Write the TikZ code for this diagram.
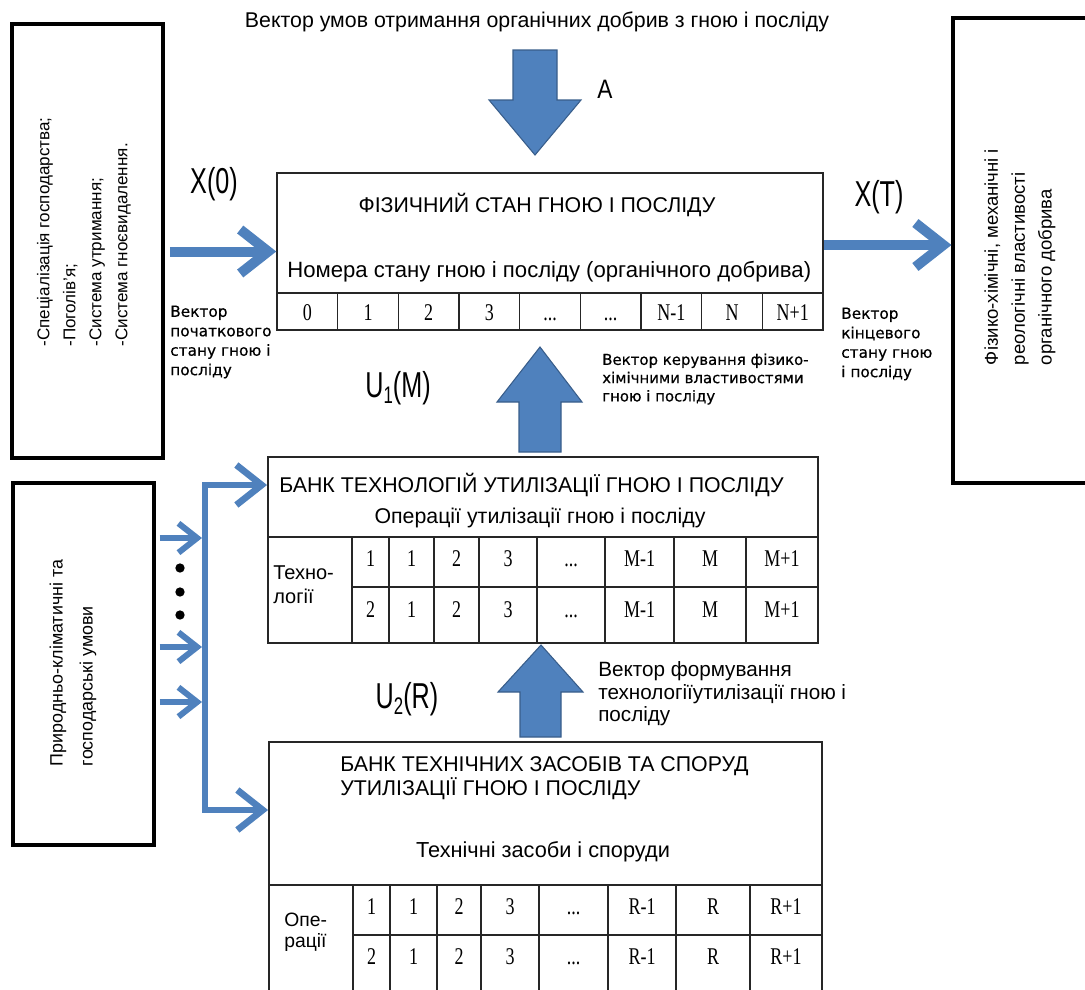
\documentclass[tikz,border=0pt]{standalone}
\usepackage{fontspec}
\setmainfont{Liberation Sans}
\newfontfamily\numfont{Liberation Serif}
\newfontfamily\verd[FakeBold=0.5]{DejaVu Sans}
\usetikzlibrary{arrows.meta,fit}
\definecolor{arrblue}{HTML}{4F81BD}
\definecolor{arredge}{HTML}{385D8A}
\newcommand\mainsz{\fontsize{16pt}{18pt}\selectfont}
\newcommand\biglab[1]{\scalebox{0.7}[1]{\fontsize{27pt}{27pt}\selectfont #1}}
\newcommand\subl[1]{\raisebox{-4.5pt}{\fontsize{18pt}{18pt}\selectfont #1}}
\newcommand\nm[1]{\scalebox{0.75}[1]{#1}}
\newcommand\dd{...}
\tikzset{
  heavybox/.style={draw=black, line width=2.3pt, inner sep=0pt},
  tablebox/.style={draw=black!85, line width=1.4pt, inner sep=0pt},
  topbox/.style={draw=black!85, line width=1.1pt, inner sep=0pt},
  gridline/.style={draw=black!85, line width=1.2pt},
  topgrid/.style={draw=black!85, line width=1.0pt},
  blockarrow/.style={fill=arrblue, draw=arredge, line width=0.8pt},
  bigflow/.style={draw=arrblue, line width=7.5pt, -{Straight Barb[length=21pt,width=33pt]}},
  busflow/.style={draw=arrblue, line width=5pt, line join=miter},
  branchtips/.style={{Straight Barb[length=19pt,width=30pt]}-{Straight Barb[length=19pt,width=30pt]}},
  smallflow/.style={draw=arrblue, line width=4.5pt, -{Straight Barb[length=14pt,width=22pt]}},
  txt/.style={inner sep=0pt, font=\mainsz},
  numtxt/.style={inner sep=0pt, anchor=base, font=\numfont\fontsize{18pt}{18pt}\selectfont},
  smalllab/.style={inner sep=0pt, align=left, anchor=west, font=\verd\fontsize{11.5pt}{14.6pt}\selectfont},
  dotnode/.style={circle, fill=black, inner sep=0pt, minimum size=7pt},
}
\begin{document}
\begin{tikzpicture}[x=0.75pt,y=-0.75pt]
\useasboundingbox (0,0) rectangle (1085,989);
\clip (0,0) rectangle (1085,989);

% ---------- boxes ----------
\node[heavybox, fit={(12,24) (163,458)}] (leftA) {};
\node[heavybox, fit={(13,483) (154,845)}] (leftB) {};
\node[heavybox, fit={(953,18) (1100,483)}] (right) {};
\node[topbox, fit={(277,173) (823,330)}] (top) {};
\node[tablebox, fit={(268,457) (818,643)}] (mid) {};
\node[tablebox, fit={(269,742) (822,1005)}] (bot) {};

% ---------- box texts ----------
\node[inner sep=0pt, rotate=90, align=left, font=\fontsize{12.8pt}{19.5pt}\selectfont] (leftAtxt) at (84,232)
  {-Спеціалізація господарства;\\-Поголів'я;\\-Система утримання;\\-Система гноєвидалення.};
\node[inner sep=0pt, rotate=90, align=left, font=\fontsize{13.4pt}{22.5pt}\selectfont] (leftBtxt) at (73,663)
  {Природньо-кліматичні та\\господарські умови};
\node[inner sep=0pt, rotate=90, align=left, font=\fontsize{13.9pt}{20.2pt}\selectfont] (righttxt) at (1020,257)
  {Фізико-хімічні, механічні і\\реологічні властивості\\органічного добрива};

\node[txt] (toptitle) at (537,205) {ФІЗИЧНИЙ СТАН ГНОЮ І ПОСЛІДУ};
\node[txt, anchor=west, font=\fontsize{16.6pt}{18pt}\selectfont] (topsub) at (287,272) {Номера стану гною і посліду (органічного добрива)};
\node[txt, anchor=west] (midtitle) at (279,485) {БАНК ТЕХНОЛОГІЙ УТИЛІЗАЦІЇ ГНОЮ І ПОСЛІДУ};
\node[txt] (midsub) at (540,518) {Операції утилізації гною і посліду};
\node[txt, anchor=west, align=left, font=\fontsize{16pt}{16.5pt}\selectfont] (bottitle) at (340,778)
  {БАНК ТЕХНІЧНИХ ЗАСОБІВ ТА СПОРУД\\УТИЛІЗАЦІЇ ГНОЮ І ПОСЛІДУ};
\node[txt, font=\fontsize{16.3pt}{18pt}\selectfont] (botsub) at (543,852) {Технічні засоби і споруди};
\node[txt, anchor=west, align=left, font=\fontsize{15pt}{18pt}\selectfont] (techlab) at (273,585) {Техно-\\логії};
\node[txt, anchor=west, align=left, font=\fontsize{14.5pt}{16pt}\selectfont] (oplab) at (284,932) {Опе-\\рації};

% ---------- top table ----------
\draw[topgrid] (top.west |- 0,293) -- (top.east |- 0,293);
\foreach \k in {1,2,3,4,5,6,7,8} { \draw[topgrid] (277+\k*60.667,293) -- (277+\k*60.667,330); }
\foreach \c/\t [count=\i] in {307.3/0, 368/1, 428.7/2, 489.3/3, 550/\dd, 610.7/\dd, 671.3/N-1, 732/N, 792.7/N+1}
  { \node[numtxt] (tn\i) at (\c,320) {\nm{\t}}; }

% ---------- middle table ----------
\draw[gridline] (mid.west |- 0,537) -- (mid.east |- 0,537);
\draw[gridline] (352,587) -- (mid.east |- 0,587);
\foreach \x in {352,389,434,479,537,605,674,746} { \draw[gridline] (\x,537) -- (\x,643); }
\foreach \c/\t [count=\i] in {370.5/1, 411.5/1, 456.5/2, 508/3, 571/\dd, 639.5/M-1, 710/M, 782/M+1}
  { \node[numtxt] (ma\i) at (\c,566) {\nm{\t}}; }
\foreach \c/\t [count=\i] in {370.5/2, 411.5/1, 456.5/2, 508/3, 571/\dd, 639.5/M-1, 710/M, 782/M+1}
  { \node[numtxt] (mb\i) at (\c,617) {\nm{\t}}; }

% ---------- bottom table ----------
\draw[gridline] (bot.west |- 0,885) -- (bot.east |- 0,885);
\draw[gridline] (353,935) -- (bot.east |- 0,935);
\foreach \x in {353,390,437,481,539,608,676,750} { \draw[gridline] (\x,885) -- (\x,1005); }
\foreach \c/\t [count=\i] in {371.5/1, 413.5/1, 459/2, 510/3, 573.5/\dd, 642/R-1, 713/R, 786/R+1}
  { \node[numtxt] (ba\i) at (\c,914) {\nm{\t}}; }
\foreach \c/\t [count=\i] in {371.5/2, 413.5/1, 459/2, 510/3, 573.5/\dd, 642/R-1, 713/R, 786/R+1}
  { \node[numtxt] (bb\i) at (\c,964) {\nm{\t}}; }

% ---------- block arrows ----------
\draw[blockarrow] (513,50) -- (557,50) -- (557,100) -- (581,100) -- (535,155) -- (489,100) -- (513,100) -- cycle;
\draw[blockarrow] (519,452) -- (519,402) -- (497,402) -- (540,347) -- (582,402) -- (561,402) -- (561,452) -- cycle;
\draw[blockarrow] (520,737) -- (520,692) -- (498,692) -- (541,645) -- (583,692) -- (561,692) -- (561,737) -- cycle;

% ---------- line arrows ----------
\coordinate (xtlev) at (0,245);
\draw[bigflow, shorten <=4pt] (leftA.east |- top.west) -- (top.west);
\draw[bigflow] (top.east |- xtlev) -- (right.west |- xtlev);

\coordinate (bustop) at (205,485);
\coordinate (busbot) at (205,810);
\draw[busflow, branchtips] (bot.west |- busbot) -- (busbot) -- (bustop) -- (mid.west |- bustop);
\foreach \yy [count=\i] in {538,647,702} {
  \coordinate (sa\i) at (0,\yy);
  \coordinate (sb\i) at (202,\yy);
  \draw[smallflow, shorten <=3pt] (leftB.east |- sa\i) -- (sb\i);
}
\node[dotnode] (dot1) at (180,568) {};
\node[dotnode] (dot2) at (180,592) {};
\node[dotnode] (dot3) at (180,615) {};

% ---------- labels ----------
\node[txt] (toptext) at (537,22) {Вектор умов отримання органічних добрив з гною і посліду};
\node[inner sep=0pt] (labA) at (605,89) {\scalebox{0.85}[1]{\fontsize{20pt}{20pt}\selectfont A}};
\node[inner sep=0pt] (labX0) at (214,184) {\biglab{X(0)}};
\node[inner sep=0pt] (labXT) at (879,197) {\biglab{X(T)}};
\node[inner sep=0pt] (labU1) at (398,388) {\biglab{U\subl{1}(M)}};
\node[inner sep=0pt] (labU2) at (407,699) {\biglab{U\subl{2}(R)}};

\node[smalllab] (vecstart) at (170,342) {Вектор\\початкового\\стану гною і\\посліду};
\node[smalllab] (vecend) at (841,344) {Вектор\\кінцевого\\стану гною\\і посліду};
\node[smalllab, font=\verd\fontsize{11.2pt}{13.7pt}\selectfont] (vecctrl) at (602,379) {Вектор керування фізико-\\хімічними властивостями\\гною і посліду};
\node[txt, anchor=west, align=left, font=\fontsize{15.5pt}{16.8pt}\selectfont] (vecform) at (598,694) {Вектор формування\\технологіїутилізації гною і\\посліду};
\end{tikzpicture}
\end{document}
